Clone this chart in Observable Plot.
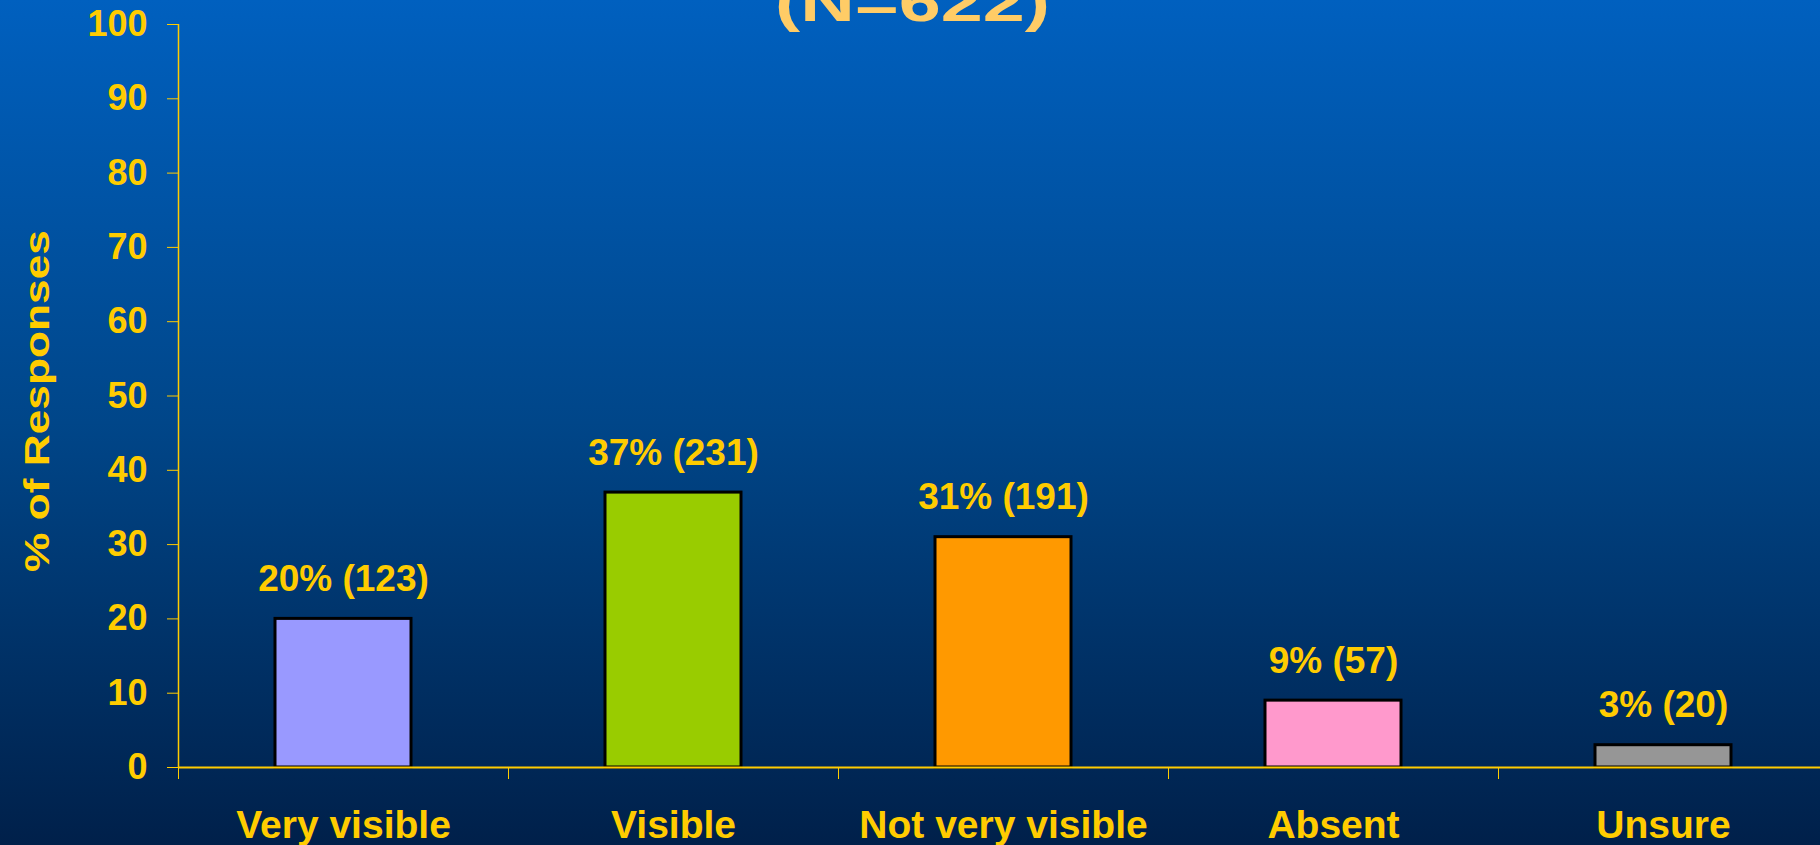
<!DOCTYPE html>
<html>
<head>
<meta charset="utf-8">
<script src="https://cdn.jsdelivr.net/npm/d3@7"></script>
<script src="https://cdn.jsdelivr.net/npm/@observablehq/plot@0.6"></script>
<style>
  html, body { margin: 0; padding: 0; overflow: hidden; background: #00204A; }
  #chart svg { display: block; }
</style>
</head>
<body>
<div id="chart"></div>
<script>
// Survey responses: how visible is it?
const categories = ["Very visible", "Visible", "Not very visible", "Absent", "Unsure"];
const percents = [20, 37, 31, 9, 3];
const counts = [123, 231, 191, 57, 20];
const barColors = ["#9999FF", "#99CC00", "#FF9900", "#FF99CC", "#969696"];
const yTicks = [0, 10, 20, 30, 40, 50, 60, 70, 80, 90, 100];
const titleText = "(N=622)";
const yLabel = "% of Responses";

const gold = "#FFCC00";
const fontFamily = '"Liberation Sans", Arial, Helvetica, sans-serif';

const rows = categories.map((category, i) => ({
  i,
  category,
  value: percents[i],
  count: counts[i],
  color: barColors[i]
}));

const chart = Plot.plot({
  width: 1820,
  height: 845,
  marginLeft: 178,
  marginRight: -8,
  marginTop: 24,
  marginBottom: 78,
  x: {type: "linear", domain: [0, categories.length], axis: null, label: null},
  y: {domain: [0, 100], axis: null, label: null},
  color: {type: "identity"},
  style: {
    background: "linear-gradient(to bottom, #0060BF 0%, #004689 50%, #00204A 100%)",
    fontFamily,
    fontWeight: "bold",
    color: gold
  },
  marks: [
    // bars, each centred in its category slot
    Plot.rectY(rows, {
      x1: "i",
      x2: d => d.i + 1,
      y: "value",
      fill: "color",
      stroke: "#000",
      strokeWidth: 3,
      insetLeft: 97,
      insetRight: 97
    }),
    // value labels above the bars
    Plot.text(rows, {
      x: d => d.i + 0.5,
      y: "value",
      text: d => `${d.value}% (${d.count})`,
      lineAnchor: "bottom",
      dy: -28,
      fontSize: 37,
      fill: gold
    }),
    // axis lines
    Plot.ruleX([0], {y1: 0, y2: 100, stroke: gold, strokeWidth: 1.5}),
    Plot.ruleY([0], {stroke: gold, strokeWidth: 2}),
    // y axis ticks and numbers
    Plot.axisY(yTicks, {
      anchor: "left",
      tickSize: 11,
      tickPadding: 20,
      fontSize: 36,
      color: gold,
      label: null
    }),
    // separators between categories
    Plot.axisX(d3.range(0, categories.length + 1), {
      anchor: "bottom",
      tickSize: 12,
      tickFormat: () => "",
      color: gold,
      label: null
    }),
    // category names
    Plot.axisX(d3.range(0, categories.length).map(i => i + 0.5), {
      anchor: "bottom",
      tickSize: 0,
      tickPadding: 43,
      tickFormat: v => categories[Math.floor(v)],
      fontSize: 39,
      color: gold,
      label: null
    }),
    // y axis title
    Plot.text([yLabel], {
      frameAnchor: "left",
      textAnchor: "middle",
      lineAnchor: "middle",
      rotate: -90,
      dx: -141,
      dy: 5,
      fontSize: 35,
      fill: gold
    }),
    // chart title
    Plot.text([titleText], {
      frameAnchor: "top",
      lineAnchor: "bottom",
      dx: -91,
      dy: -4,
      fontSize: 54,
      fill: "#FFCC66"
    })
  ]
});

// widen the rotated axis title and the heading to their drawn lengths
d3.select(chart).selectAll("text")
  .filter(function() { return this.textContent === yLabel; })
  .attr("textLength", 342)
  .attr("lengthAdjust", "spacingAndGlyphs");
d3.select(chart).selectAll("text")
  .filter(function() { return this.textContent === titleText; })
  .attr("textLength", 275)
  .attr("lengthAdjust", "spacingAndGlyphs");

document.getElementById("chart").append(chart);
</script>
</body>
</html>
